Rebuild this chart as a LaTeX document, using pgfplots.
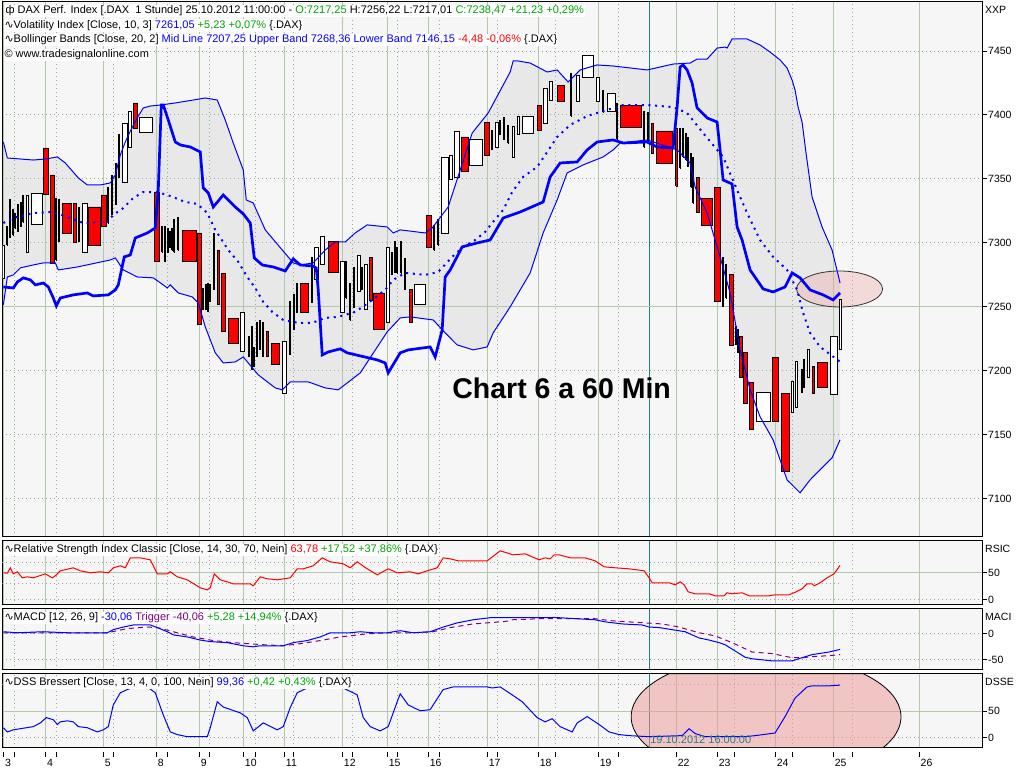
\documentclass[border=0pt]{standalone}
\usepackage{fontspec}
\setmainfont{Liberation Sans}
\newfontfamily\dejavu{DejaVu Sans}
\usepackage{pgfplots}
\pgfplotsset{compat=1.18}
\usepackage{pgfplotstable}
\usepgfplotslibrary{fillbetween}

\definecolor{panelbg}{RGB}{246,246,246}
\definecolor{bandfill}{RGB}{232,232,232}
\definecolor{gridgreen}{RGB}{178,200,172}
\definecolor{griddot}{RGB}{150,170,150}
\definecolor{txtgreen}{RGB}{0,165,0}
\definecolor{txtblue}{RGB}{0,0,255}
\definecolor{txtred}{RGB}{255,0,0}
\definecolor{txtpurple}{RGB}{128,0,128}
\definecolor{cursor}{RGB}{40,125,125}
\definecolor{pinkfill}{RGB}{240,150,150}

\newcommand\hdr{\fontsize{11}{13}\selectfont}
\newcommand\tkfont{\fontsize{10.5}{12}\selectfont}
\newcommand\chartfont{\fontsize{28.5}{30}\selectfont\bfseries}
\newcommand\wave{{\dejavu ∿}}

\pgfplotstableread{
x0 x1 lo hi c
2 4.3 7271.9 7298.4 0
6.5 7.5 7298.4 7312.5 0
9.5 10.5 7303.9 7333.6 0
12.5 13.5 7306.2 7325.8 0
14.5 15.5 7311.7 7323.4 0
17.5 18.5 7308.6 7329.7 0
20.5 21.5 7312.5 7332.0 0
22.5 23.5 7316.4 7337.5 0
26 28 7292.9 7337.5 0
31 42 7314.8 7339.0 0
43 48 7338.2 7374.2 1
50 54 7283.6 7353.1 1
55.5 56.5 7286.7 7335.1 0
58.5 59.5 7300.8 7333.6 0
62 71 7307.8 7331.2 1
73 76 7300.0 7331.2 1
78.5 79.5 7300.8 7328.1 0
82 87 7292.9 7331.2 0
88 100.5 7298.4 7328.1 1
101 106 7312.5 7337.5 1
107.5 108.5 7315.6 7343.0 0
111.5 112.5 7321.9 7353.1 0
115.5 116.5 7329.7 7362.5 0
118.5 119.5 7350.8 7384.4 0
122 127 7346.9 7393.0 0
128 131 7375.0 7403.1 0
133 137 7389.8 7409.4 1
139 152 7386.7 7398.4 0
154 159 7285.9 7339.8 1
161.5 162.5 7292.9 7312.5 0
164.5 165.5 7285.2 7312.5 0
166.8 167.8 7292.9 7311.7 0
169.5 170.5 7296.1 7308.6 0
171.5 172.5 7294.5 7311.7 0
173.5 174.5 7292.9 7318.0 0
177.5 178.5 7294.5 7320.3 0
182 196 7285.9 7309.4 1
197 201 7235.9 7307.8 1
202.5 203.5 7247.7 7264.8 0
204.8 205.8 7247.7 7267.2 0
206.8 207.8 7246.1 7268.7 0
209.5 210.5 7253.9 7267.2 0
213.5 214.5 7263.3 7307.8 0
217 219 7252.3 7294.5 1
221 225 7230.5 7275.8 1
228 238 7221.1 7240.6 1
240 244 7214.8 7245.3 0
248.5 249.5 7210.9 7226.6 0
250.8 251.8 7200.8 7234.4 0
253.5 254.5 7203.1 7218.7 0
256.5 257.5 7210.9 7237.5 0
259.5 260.5 7216.4 7239.8 0
262.5 263.5 7210.9 7237.5 0
266 268 7210.9 7230.5 1
271 279 7205.4 7221.1 1
282 286 7182.0 7222.7 0
289.5 290.5 7212.5 7253.9 0
293.5 294.5 7232.0 7259.4 0
296.5 297.5 7245.3 7268.7 0
300 308 7245.3 7268.0 1
311.5 312.5 7253.1 7289.0 0
314 318 7271.8 7296.8 0
320 324 7282.8 7304.7 0
328 338 7277.3 7301.5 1
340 344 7245.3 7285.2 0
345.5 346.5 7257.0 7285.2 0
349.5 350.5 7239.8 7268.7 0
353.5 354.5 7249.2 7281.2 0
357 360 7261.7 7290.6 0
361.5 362.5 7263.3 7281.2 0
364 367 7248.4 7282.8 0
369 372 7254.7 7289.0 1
373 384 7232.0 7260.9 1
386 389 7237.5 7296.8 0
391.5 392.5 7275.0 7292.2 0
393.8 394.8 7277.3 7300.8 0
396.5 397.5 7276.5 7296.1 0
400.5 401.5 7276.5 7301.5 0
404.5 405.5 7263.3 7287.5 0
409 412 7237.5 7263.3 1
414 425 7252.3 7267.2 0
426 431 7296.8 7321.1 1
433.5 434.5 7294.5 7314.0 0
437.5 438.5 7298.4 7318.0 0
441 448 7307.8 7367.2 0
449 452 7350.0 7368.7 0
454 459 7351.5 7387.5 0
461 468 7355.5 7382.8 1
469 482 7360.9 7380.5 0
484 489 7368.7 7394.5 1
491.5 492.5 7372.7 7388.3 0
495 498 7375.0 7394.5 0
499.5 500.5 7384.4 7396.1 0
503.5 504.5 7380.5 7397.7 0
507.5 508.5 7378.1 7392.2 0
512 514 7367.2 7391.4 0
517 519 7384.4 7399.2 0
522 533 7385.9 7399.2 0
537 541 7388.3 7407.8 1
543 547 7393.0 7421.1 0
549 552 7411.7 7426.6 0
557 564 7410.9 7422.7 1
570.5 571.5 7399.2 7432.8 0
576 579 7410.9 7431.2 0
582 593 7429.7 7446.9 0
596 599 7410.9 7429.7 0
602.5 603.5 7402.3 7419.5 0
607 615 7403.1 7417.2 0
616.5 617.5 7381.2 7409.4 0
620 641 7390.6 7407.8 1
643.5 644.5 7375.0 7403.1 0
647.5 648.5 7378.1 7402.3 0
651 653 7370.3 7393.7 1
656 672 7362.5 7387.5 1
675.5 677 7344.5 7389.8 1
679.5 680.5 7358.6 7389.8 0
682.5 683.5 7367.2 7389.8 0
685.5 686.5 7364.8 7385.9 0
687.8 688.8 7359.4 7382.8 0
690.5 691.5 7343.7 7370.3 0
692.8 693.8 7331.2 7367.2 0
696 699 7324.2 7351.5 1
701 712 7313.3 7335.1 1
714 720 7253.9 7343.0 1
722.5 723.5 7250.0 7289.0 0
725.5 726.5 7257.0 7282.8 0
729 733 7219.5 7275.0 1
735.2 736.2 7220.3 7234.4 0
737 737.9 7214.1 7232.0 0
739 742 7194.5 7226.6 1
743 747 7174.2 7214.1 1
749 753 7153.9 7190.6 1
756 770 7160.2 7182.8 0
772 778 7160.2 7210.2 1
781 789 7121.1 7182.0 1
791 793 7167.9 7191.4 0
795 797 7171.8 7207.0 0
801.5 802.5 7182.8 7200.8 0
803.8 804.8 7186.7 7208.6 0
807 809 7194.5 7216.4 0
812 814 7182.0 7203.1 1
817 827 7186.7 7206.2 1
830 837 7181.2 7226.6 0
839 841 7217.0 7256.2 0
}\candles

\pgfplotsset{
  panel/.style={
    set layers, scale only axis, width=980pt, xmin=2, xmax=982, anchor=north west,
    axis background/.style={fill=panelbg},
    axis line style={black, line width=1pt},
    xtick={3,45,103,156,199,243,284,342,387,428,487,538,598,676,717,775,833,919},
    minor xtick={14,56,113,167,209,255,293,352,397,439,497,555,618,734,792,852},
    xmajorgrids=true, xminorgrids=true,
    major grid style={gridgreen, solid, line width=1pt},
    minor grid style={griddot, line width=1pt, dash pattern=on 1pt off 3pt},
    extra x ticks={649}, extra x tick labels={},
    extra x tick style={grid=major, major grid style={cursor, solid, line width=1pt}, major x tick style={opacity=0}},
    xtick pos=left,
    ytick pos=right, yticklabel pos=right, tick align=outside,
    major tick length=5pt, minor tick length=0pt,
    tick style={black, line width=1pt},
    major x tick style={opacity=0},
    yticklabel style={font=\tkfont, anchor=west, inner sep=0pt, xshift=1pt},
    xticklabels={},
    fill between/on layer=axis background,
  }
}

\begin{document}
\begin{tikzpicture}[x=1pt,y=1pt]
\path (0pt,0pt) rectangle (1024pt,-768pt);

% ================= MAIN PANEL =================
\begin{axis}[panel, at={(2pt,-1.5pt)}, height=535.5pt,
  ymin=7070.3, ymax=7488.7,
  ytick={7100,7150,7200,7250,7300,7350,7400,7450},
  yticklabels={7100,7150,7200,7250,7300,7350,7400,7450},
  minor ytick={7100,7150,7200,7300,7350,7400,7450},
  yminorgrids=true,
  extra y ticks={7250}, extra y tick labels={},
  extra y tick style={grid=major},
]
\node[anchor=base west, inner sep=0pt, font=\chartfont] at (axis cs:452,7178.1) {Chart 6 a 60 Min};
\draw[fill=pinkfill, fill opacity=0.3, draw=black!80, line width=0.8pt] (axis cs:839.5,7264.0) ellipse [x radius=43pt, y radius=18pt];

\pgfplotsforeachungrouped \i in {0,1,...,143}{%
  \pgfplotstablegetelem{\i}{x0}\of\candles \let\ca\pgfplotsretval
  \pgfplotstablegetelem{\i}{x1}\of\candles \let\cb\pgfplotsretval
  \pgfplotstablegetelem{\i}{lo}\of\candles \let\cl\pgfplotsretval
  \pgfplotstablegetelem{\i}{hi}\of\candles \let\ch\pgfplotsretval
  \pgfplotstablegetelem{\i}{c}\of\candles \let\cc\pgfplotsretval
  \ifnum\cc=1 \def\cf{red}\else\def\cf{white}\fi
  \edef\doplot{\noexpand\addplot[draw=black, line width=0.9pt, fill=\cf] coordinates {(\ca,\cl) (\ca,\ch) (\cb,\ch) (\cb,\cl) (\ca,\cl)};}%
  \doplot
}

% Upper band
\addplot[name path=upper, txtblue, line width=1pt] table {
x y
3 7378.9
7 7366.4
33 7364.8
45 7365.6
57 7367.2
65 7362.5
78 7350.8
87 7345.3
100 7345.3
110 7346.9
115 7353.1
120 7368.7
125 7378.9
130 7387.5
137 7397.7
143 7405.5
150 7407.0
160 7407.8
175 7409.4
193 7411.7
205 7413.3
217 7411.7
225 7396.1
233 7378.1
243 7357.0
246 7333.6
253 7331.2
265 7310.2
282 7294.5
293 7284.4
300 7282.8
313 7284.4
325 7294.5
335 7300.8
345 7300.8
355 7307.8
367 7314.1
387 7312.5
393 7307.8
400 7310.2
425 7307.8
432 7311.7
448 7328.1
460 7357.0
472 7385.9
488 7401.6
502 7421.9
510 7433.6
513 7442.2
518 7442.2
530 7440.6
547 7433.6
557 7435.2
568 7425.8
580 7435.2
597 7439.1
613 7438.3
647 7435.2
673 7439.8
690 7440.6
697 7443.7
707 7443.7
717 7452.3
725 7453.1
727 7452.3
732 7459.4
747 7459.4
760 7454.7
770 7449.2
780 7443.0
787 7436.7
792 7427.3
795 7419.5
798 7406.2
802 7394.5
806 7370.0
812 7335.9
822 7312.5
832 7294.5
840 7268.7
};
% Lower band
\addplot[name path=lower, txtblue, line width=1pt] table {
x y
3 7251.5
7 7273.4
13 7275.0
20 7280.5
33 7282.8
43 7284.4
55 7284.4
58 7278.9
77 7281.2
110 7286.7
115 7288.3
123 7278.9
137 7273.4
153 7272.7
163 7267.2
167 7264.8
170 7267.2
178 7260.9
192 7257.8
198 7253.1
205 7234.4
215 7214.1
223 7206.2
235 7207.0
243 7210.9
248 7206.2
258 7196.9
275 7186.7
282 7185.2
290 7191.4
308 7191.4
325 7186.7
338 7185.2
360 7198.4
387 7230.5
400 7241.4
410 7242.2
433 7239.8
445 7229.7
457 7220.3
473 7216.4
487 7218.7
493 7229.7
510 7250.0
530 7276.6
543 7307.8
557 7333.6
567 7354.7
583 7361.0
603 7367.2
613 7372.7
620 7378.1
647 7380.5
677 7372.7
690 7362.5
695 7343.7
707 7323.4
720 7289.1
730 7260.9
740 7216.4
750 7185.2
760 7164.1
773 7146.1
787 7114.8
800 7104.7
810 7114.8
820 7122.7
832 7132.0
840 7146.1
};
\addplot[bandfill] fill between[of=upper and lower];
% Mid line (dotted)
\addplot[txtblue, line width=2pt, dash pattern=on 2pt off 4.7pt] table {
x y
3 7315.6
13 7319.5
33 7323.4
53 7324.2
83 7315.6
107 7316.4
113 7321.9
123 7327.3
133 7335.1
143 7339.8
157 7339.8
170 7336.7
185 7332.0
197 7330.5
207 7323.4
215 7310.2
228 7294.5
238 7285.2
247 7273.4
255 7264.8
263 7253.9
272 7246.1
283 7239.8
298 7237.5
312 7237.5
325 7241.4
338 7242.2
355 7246.1
368 7253.1
385 7263.3
393 7271.1
405 7276.6
425 7275.0
438 7277.3
452 7289.1
463 7296.9
475 7302.3
485 7308.6
492 7315.6
503 7325.8
512 7339.8
523 7351.6
537 7359.4
557 7382.8
570 7392.2
587 7399.2
600 7402.3
623 7407.8
647 7407.8
673 7406.2
687 7401.6
703 7385.9
723 7367.2
737 7341.4
747 7323.4
760 7302.3
773 7289.1
787 7278.9
797 7263.3
803 7245.3
810 7229.7
820 7218.7
828 7214.1
840 7207.1
};
% Volatility index (thick)
\addplot[txtblue, line width=2.7pt] table {
x y
3 7265.6
13 7264.8
17 7269.5
23 7272.7
30 7271.1
35 7267.2
43 7268.7
48 7265.6
53 7257.0
56 7250.8
60 7257.0
73 7259.4
87 7260.9
93 7258.6
108 7259.4
115 7263.3
118 7267.2
124 7289.1
130 7290.6
135 7303.9
147 7307.8
155 7311.7
158 7341.4
161 7407.8
163 7407.8
168 7396.1
175 7378.9
180 7376.6
190 7375.0
200 7371.1
203 7343.0
208 7339.1
213 7328.1
223 7337.5
235 7328.1
243 7322.7
250 7315.6
254 7288.3
262 7282.8
273 7281.2
285 7278.1
293 7287.5
300 7282.8
312 7282.0
316 7280.5
318 7263.3
322 7212.5
328 7214.8
340 7217.2
347 7214.1
377 7208.6
385 7206.2
388 7198.4
400 7214.1
408 7216.4
430 7218.7
435 7210.9
442 7232.0
445 7273.4
450 7278.9
462 7296.9
477 7300.0
490 7302.3
503 7319.5
520 7324.2
543 7332.0
550 7351.6
560 7362.5
577 7363.3
587 7372.7
597 7378.9
613 7380.5
623 7378.1
647 7378.9
657 7375.0
673 7374.2
677 7406.2
680 7437.5
683 7439.1
687 7435.2
692 7425.0
697 7405.5
707 7397.7
717 7394.5
720 7372.7
723 7349.2
732 7346.1
737 7312.5
742 7302.3
750 7278.9
763 7264.1
773 7261.7
785 7265.6
792 7276.6
800 7272.7
810 7263.3
823 7259.4
833 7255.5
840 7261.0
};
\end{axis}

% ================= RSI PANEL =================
\begin{axis}[panel, at={(2pt,-541pt)}, height=64pt,
  ymin=-9.3, ymax=109.3,
  ytick={0,50}, yticklabels={0,50},
  minor ytick={0}, yminorgrids=true,
  extra y ticks={50}, extra y tick labels={}, extra y tick style={grid=major},
]
\addplot[griddot, line width=1pt, dash pattern=on 1pt off 3pt] coordinates {(2,30) (840,30)};
\addplot[griddot, line width=1pt, dash pattern=on 1pt off 3pt] coordinates {(2,70) (840,70)};
\addplot[txtred, line width=1pt] table {
x y
3 50
7 49.4
10 59.3
13 48.1
17 51.9
22 40.7
27 42.6
33 40.7
45 48.1
52 40.7
55 44.4
60 53.7
73 59.3
80 53.7
90 50
100 51.9
108 50
113 59.3
120 63
125 59.3
130 77.8
140 77.8
150 74.1
157 48.1
167 48.1
170 51.9
177 42.6
187 37
200 22.2
207 18.5
210 22.2
214 48.1
220 37
230 31.5
233 29.6
250 29.6
253 25.9
260 42.6
267 38.9
277 37
290 40.7
297 57.4
303 57.4
313 63
322 77.8
330 70.4
343 66.7
350 59.3
357 70.4
367 57.4
377 46.3
388 57.4
397 50
410 51.9
418 48.1
427 53.7
437 59.3
443 77.8
450 75.9
458 72.2
487 72.2
500 90.7
510 85.2
512 83.3
525 85.2
539 74.1
545 77.8
550 75.9
554 83.3
559 83.3
570 77.8
585 77.8
595 72.2
604 61.1
615 59.3
629 57.4
644 53.7
649 40.7
652 31.5
669 31.5
675 27.8
680 33.3
684 27.8
688 14.8
695 11.1
709 11.1
715 7.4
724 7.4
727 13
732 11.1
742 13
749 7.4
769 7.4
775 9.3
789 9.3
794 13
802 20.4
807 29.6
812 29.6
814 25.9
820 31.5
827 40.7
834 48.1
840 63.8
};
\end{axis}

% ================= MACD PANEL =================
\begin{axis}[panel, at={(2pt,-609pt)}, height=61pt,
  ymin=-69.2, ymax=48.1,
  ytick={-50,0}, yticklabels={-50,0},
  minor ytick={-50,0}, yminorgrids=true,
]
\addplot[txtpurple, line width=1pt, dash pattern=on 5pt off 4pt] table {
x y
3 2
107 2
127 10
147 13
157 12
173 4
193 -6
213 -13
233 -17
263 -21
283 -23
300 -19
320 -13
340 -6
367 0
387 2
413 2
433 4
450 12
473 19
500 23
510 25
512 27
539 29
595 29
612 25
645 21
662 19
679 13
699 2
715 -4
732 -17
752 -35
772 -38
792 -46
802 -46
812 -44
829 -42
840 -40
};
\addplot[txtblue, line width=1pt] table {
x y
3 4
17 2
43 4
67 2
107 2
113 8
123 13
133 17
150 17
157 12
167 4
173 -2
187 -6
200 -12
210 -15
227 -17
243 -23
253 -25
260 -23
283 -23
293 -17
307 -13
320 -6
330 2
350 2
360 4
373 2
387 2
400 6
413 2
430 4
443 13
457 21
473 27
490 31
510 31
549 31
554 31.5
595 27
605 23
622 19
642 17
649 13
659 12
672 8
685 4
699 -8
709 -12
719 -17
725 -21
735 -33
745 -45
752 -48
772 -52
792 -52
802 -46
812 -40
829 -35
840 -30
};
\end{axis}

% ================= DSS PANEL =================
\begin{axis}[panel, at={(2pt,-674pt)}, height=74pt,
  ymin=-18.9, ymax=120.8,
  ytick={0,50}, yticklabels={0,50},
  extra y ticks={50}, extra y tick labels={}, extra y tick style={grid=major},
  minor tick length=5pt,
  major x tick style={opacity=1, black, yshift=-4pt},
  minor tick style={black, yshift=-4pt},
  xticklabels={3,4,5,8,9,10,11,12,15,16,17,18,19,22,23,24,25,26},
  xticklabel style={font=\tkfont, anchor=north west, inner sep=0pt, xshift=1.5pt, yshift=-6pt},
]
\addplot[griddot, line width=1pt, dash pattern=on 1pt off 3pt] coordinates {(2,0) (982,0)};
\addplot[griddot, line width=1pt, dash pattern=on 1pt off 3pt] coordinates {(2,100) (840,100)};
\draw[fill=pinkfill, fill opacity=0.5, draw=black, line width=0.8pt]
  (axis cs:882.9,-18.9) arc[start angle=-30, end angle=43.9, x radius=135pt, y radius=62pt]
  -- (axis cs:668.7,120.8) arc[start angle=136.1, end angle=210, x radius=135pt, y radius=62pt] -- cycle;
\addplot[txtblue, line width=1pt] table {
x y
3 19
7 11
13 15
33 21
40 28
46 38
53 34
57 25
60 30
67 32
73 30
78 21
87 19
97 11
103 15
108 21
113 62
120 85
133 96
147 96
155 85
163 43
170 11
177 6
187 2
207 2
210 19
217 68
223 58
240 47
247 38
253 13
263 28
277 15
283 21
290 57
297 85
307 94
320 96
333 96
343 94
357 81
363 38
370 21
380 13
388 21
397 68
400 83
408 62
420 51
430 53
433 62
443 91
453 96
487 96
492 94
500 96
512 81
522 68
537 38
545 30
552 36
560 21
572 11
577 28
587 40
599 25
609 11
619 6
629 4
649 2
682 4
689 17
695 8
705 2
745 2
755 4
775 9
785 40
795 75
807 96
812 98
829 98
840 99.4
};
\node[anchor=base west, inner sep=0pt, text=cursor, font=\fontsize{11}{12}\selectfont] at (axis cs:650,-11.3) {19.10.2012 16:00:00};
\end{axis}

% ================= TEXT =================
\node[anchor=west, fill=white, inner sep=1pt, font=\hdr] at (4pt,-11pt) {ф DAX Perf. Index [.DAX\ \ 1 Stunde] 25.10.2012 11:00:00 - \textcolor{txtgreen}{O:7217,25} H:7256,22 L:7217,01 \textcolor{txtgreen}{C:7238,47 +21,23 +0,29\%}};
\node[anchor=west, fill=white, inner sep=1pt, font=\hdr] at (3pt,-25.5pt) {\wave Volatility Index [Close, 10, 3] \textcolor{txtblue}{7261,05} \textcolor{txtgreen}{+5,23 +0,07\%} \{.DAX\}};
\node[anchor=west, fill=white, inner sep=1pt, font=\hdr] at (3pt,-40pt) {\wave Bollinger Bands [Close, 20, 2] \textcolor{txtblue}{Mid Line 7207,25 Upper Band 7268,36 Lower Band 7146,15} \textcolor{txtred}{-4,48 -0,06\%} \{.DAX\}};
\node[anchor=west, fill=white, inner sep=1pt, font=\hdr] at (3pt,-55pt) {© www.tradesignalonline.com};

\node[anchor=west, fill=white, inner sep=1pt, font=\hdr] at (3pt,-550pt) {\wave Relative Strength Index Classic [Close, 14, 30, 70, Nein] \textcolor{txtred}{63,78} \textcolor{txtgreen}{+17,52 +37,86\%} \{.DAX\}};
\node[anchor=west, fill=white, inner sep=1pt, font=\hdr] at (3pt,-618pt) {\wave MACD [12, 26, 9] \textcolor{txtblue}{-30,06} \textcolor{txtpurple}{Trigger -40,06} \textcolor{txtgreen}{+5,28 +14,94\%} \{.DAX\}};
\node[anchor=west, fill=white, inner sep=1pt, font=\hdr] at (3pt,-683pt) {\wave DSS Bressert [Close, 13, 4, 0, 100, Nein] \textcolor{txtblue}{99,36} \textcolor{txtgreen}{+0,42 +0,43\%} \{.DAX\}};

\node[anchor=west, inner sep=0pt, font=\tkfont] at (985pt,-9.5pt) {XXP};
\node[anchor=west, inner sep=0pt, font=\tkfont] at (985pt,-549pt) {RSIC};
\node[anchor=west, inner sep=0pt, font=\tkfont] at (985pt,-617pt) {MACI};
\node[anchor=west, inner sep=0pt, font=\tkfont] at (985pt,-682pt) {DSSE};
\end{tikzpicture}
\end{document}
